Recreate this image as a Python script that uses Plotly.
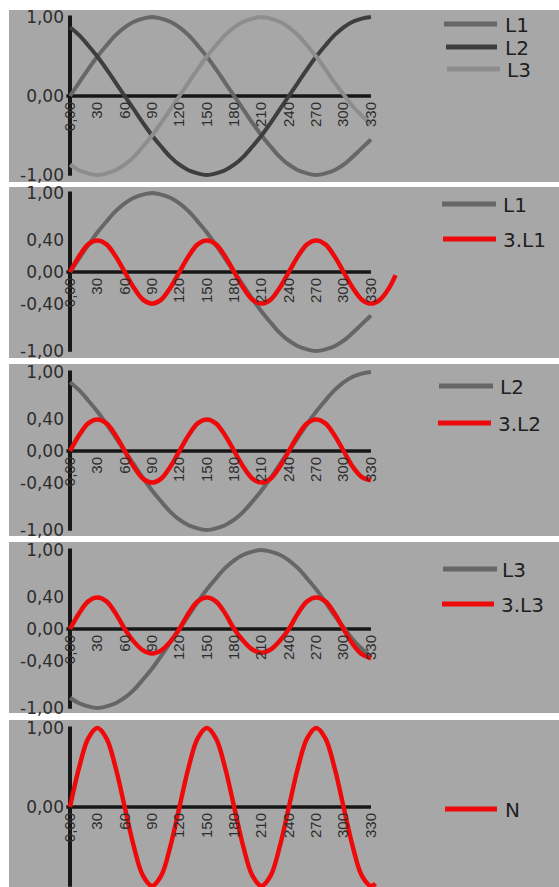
import plotly.graph_objects as go

W, H = 559, 887

# ---- data: phase voltages and their third harmonics, sampled every 10 degrees ----
deg = [0, 10, 20, 30, 40, 50, 60, 70, 80, 90, 100, 110, 120, 130, 140, 150, 160,
       170, 180, 190, 200, 210, 220, 230, 240, 250, 260, 270, 280, 290, 300, 310,
       320, 330]

l1 = [0.00, 0.17, 0.34, 0.50, 0.64, 0.77, 0.87, 0.94, 0.98, 1.00, 0.98, 0.94,
      0.87, 0.77, 0.64, 0.50, 0.34, 0.17, 0.00, -0.17, -0.34, -0.50, -0.64,
      -0.77, -0.87, -0.94, -0.98, -1.00, -0.98, -0.94, -0.87, -0.77, -0.66, -0.55]

l2 = [0.87, 0.77, 0.64, 0.50, 0.34, 0.17, 0.00, -0.17, -0.34, -0.50, -0.64,
      -0.77, -0.87, -0.94, -0.98, -1.00, -0.98, -0.94, -0.87, -0.77, -0.64,
      -0.50, -0.34, -0.17, 0.00, 0.17, 0.34, 0.50, 0.64, 0.77, 0.87, 0.94, 0.98,
      1.00]

l3 = [-0.87, -0.94, -0.98, -1.00, -0.98, -0.94, -0.87, -0.77, -0.64, -0.50,
      -0.34, -0.17, 0.00, 0.17, 0.34, 0.50, 0.64, 0.77, 0.87, 0.94, 0.98, 1.00,
      0.98, 0.94, 0.87, 0.77, 0.64, 0.50, 0.34, 0.17, 0.02, -0.13, -0.25, -0.36]

deg_h3_l1 = deg + [340, 350, 357]
h3_l1 = [0.00, 0.20, 0.35, 0.40, 0.35, 0.20, 0.00, -0.20, -0.35, -0.40, -0.35,
         -0.20, 0.00, 0.20, 0.35, 0.40, 0.35, 0.20, 0.00, -0.20, -0.35, -0.40,
         -0.35, -0.20, 0.00, 0.20, 0.35, 0.40, 0.35, 0.20, 0.00, -0.20, -0.35,
         -0.40, -0.35, -0.20, -0.04]

h3_l2 = [0.00, 0.20, 0.35, 0.40, 0.35, 0.20, 0.00, -0.20, -0.35, -0.40, -0.35,
         -0.20, 0.00, 0.20, 0.35, 0.40, 0.35, 0.20, 0.00, -0.20, -0.35, -0.40,
         -0.35, -0.20, 0.00, 0.20, 0.35, 0.40, 0.35, 0.20, 0.00, -0.20, -0.33,
         -0.37]

h3_l3 = [0.00, 0.20, 0.35, 0.40, 0.35, 0.20, 0.00, -0.16, -0.27, -0.31, -0.27,
         -0.16, 0.00, 0.20, 0.35, 0.40, 0.35, 0.20, 0.00, -0.15, -0.26, -0.30,
         -0.26, -0.15, 0.00, 0.20, 0.35, 0.40, 0.35, 0.20, 0.00, -0.19, -0.32,
         -0.37]

deg_n = deg + [335]
n_vals = [0.00, 0.50, 0.87, 1.00, 0.87, 0.50, 0.00, -0.50, -0.87, -1.00, -0.87,
          -0.50, 0.00, 0.50, 0.87, 1.00, 0.87, 0.50, 0.00, -0.50, -0.87, -1.00,
          -0.87, -0.50, 0.00, 0.50, 0.87, 1.00, 0.87, 0.50, 0.00, -0.50, -0.87,
          -1.00, -0.97]

x_ticks = [0, 30, 60, 90, 120, 150, 180, 210, 240, 270, 300, 330]
x_tick_text = ["0,00", "30", "60", "90", "120", "150", "180", "210", "240",
               "270", "300", "330"]
y_ticks_full = [-1.0, 0.0, 1.0]
y_text_full = ["-1,00", "0,00", "1,00"]
y_ticks_h3 = [-1.0, -0.4, 0.0, 0.4, 1.0]
y_text_h3 = ["-1,00", "-0,40", "0,00", "0,40", "1,00"]

# ---- styling ----
BG = "#a8a7a8"
AXIS = "#171717"
C_L1 = "#676767"
C_L2 = "#3e3e3e"
C_L3 = "#8d8d8d"
C_MID = "#666666"
RED = "#ee0a0a"
TXT = "#2d2d2d"

X0_PX = 70.0      # pixel position of 0 degrees
XS = 0.912        # pixels per degree
SCALE = 79.0      # pixels per unit on y
X_MIN, X_MAX = -10, 368

panel_top = [10, 187, 364, 542, 720]
panel_bot = [182, 358, 536, 713, 900]
panel_zero = [96, 272, 451, 629, 807]


def fx(p):
    return p / W


def fy(p):
    return 1 - p / H


panels = [
    dict(series=[(deg, l1, C_L1, "L1"), (deg, l2, C_L2, "L2"), (deg, l3, C_L3, "L3")],
         yt=(y_ticks_full, y_text_full),
         legend=[(444, 497, 24, 503), (446, 497, 47, 503), (447, 500, 69, 505)]),
    dict(series=[(deg, l1, C_MID, "L1"), (deg_h3_l1, h3_l1, RED, "3.L1")],
         yt=(y_ticks_h3, y_text_h3),
         legend=[(442, 496, 204, 501), (443, 496, 239, 501)]),
    dict(series=[(deg, l2, C_MID, "L2"), (deg, h3_l2, RED, "3.L2")],
         yt=(y_ticks_h3, y_text_h3),
         legend=[(439, 493, 386, 498), (438, 491, 423, 496)]),
    dict(series=[(deg, l3, C_MID, "L3"), (deg, h3_l3, RED, "3.L3")],
         yt=(y_ticks_h3, y_text_h3),
         legend=[(443, 497, 569, 500), (442, 494, 604, 499)]),
    dict(series=[(deg_n, n_vals, RED, "N")],
         yt=(y_ticks_full, y_text_full),
         legend=[(445, 497, 809, 503)]),
]

fig = go.Figure()
shapes = []
annotations = []
layout_axes = {}

for i, p in enumerate(panels):
    k = "" if i == 0 else str(i + 1)
    xref, yref = "x" + k, "y" + k
    zero = panel_zero[i]

    # grey panel background
    shapes.append(dict(type="rect", xref="paper", yref="paper", layer="below",
                       x0=fx(9), x1=1, y0=fy(min(panel_bot[i], H)), y1=fy(panel_top[i]),
                       fillcolor=BG, line=dict(width=0)))

    y_top_px = zero - 1.12 * SCALE
    y_bot_px = min(zero + 1.12 * SCALE, H)
    y_range = [-(y_bot_px - zero) / SCALE, (zero - y_top_px) / SCALE]

    layout_axes["xaxis" + k] = dict(
        domain=[fx(X0_PX + X_MIN * XS), fx(X0_PX + X_MAX * XS)],
        range=[X_MIN, X_MAX], anchor="free", position=fy(zero + 2),
        showgrid=False, zeroline=False, showline=False, ticks="",
        tickvals=x_ticks, ticktext=x_tick_text, tickangle=-90,
        tickfont=dict(family="Liberation Sans, Arial", size=15, color=TXT),
        fixedrange=True)
    layout_axes["yaxis" + k] = dict(
        domain=[fy(y_bot_px), fy(y_top_px)], range=y_range,
        anchor="free", position=fx(X0_PX),
        showgrid=False, zeroline=False, showline=False, ticks="",
        tickvals=p["yt"][0], ticktext=p["yt"][1], ticklabelstandoff=6,
        tickfont=dict(family="DejaVu Sans", size=17, color=TXT),
        fixedrange=True)

    # axis cross: horizontal at 0, vertical at 0 degrees
    shapes.append(dict(type="line", xref=xref, yref=yref, layer="below",
                       x0=-4, x1=330, y0=0, y1=0, line=dict(color=AXIS, width=3.5)))
    shapes.append(dict(type="line", xref=xref, yref=yref, layer="below",
                       x0=0, x1=0, y0=-1.01, y1=1.02, line=dict(color=AXIS, width=4)))

    for (xs, ys, col, name) in p["series"]:
        fig.add_trace(go.Scatter(x=xs, y=ys, mode="lines", name=name,
                                 line=dict(color=col, width=4.5 if col == RED else 4,
                                           shape="spline"),
                                 xaxis=xref, yaxis=yref, showlegend=False,
                                 hoverinfo="skip"))

    # legend: line sample + label
    for (xs, ys, col, name), (lx0, lx1, ly, tx) in zip(p["series"], p["legend"]):
        shapes.append(dict(type="line", xref="paper", yref="paper",
                           x0=fx(lx0), x1=fx(lx1), y0=fy(ly), y1=fy(ly),
                           line=dict(color=col, width=5)))
        annotations.append(dict(text=name, xref="paper", yref="paper",
                                x=fx(tx), y=fy(ly + 1), xanchor="left", yanchor="middle",
                                showarrow=False, height=22,
                                font=dict(family="DejaVu Sans", size=20, color="#202020")))

fig.update_layout(
    width=W, height=H, margin=dict(l=0, r=0, t=0, b=0),
    paper_bgcolor="white", plot_bgcolor="rgba(0,0,0,0)",
    shapes=shapes, annotations=annotations, showlegend=False,
    **layout_axes)

fig.write_html("out.html", config={"displayModeBar": False})
